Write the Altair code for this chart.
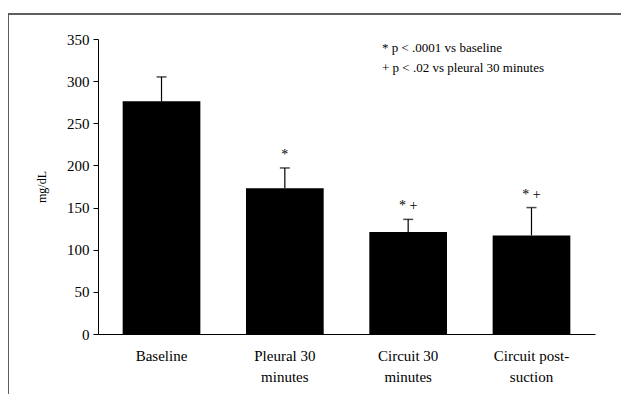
import altair as alt
import pandas as pd

categories = ["Baseline", "Pleural 30|minutes", "Circuit 30|minutes", "Circuit post-|suction"]
means = [276, 173, 121, 117]
errors = [29, 24, 15, 33]
markers = ["", "*", "* +", "* +"]
notes = ["*  p < .0001 vs baseline", "+  p < .02 vs pleural 30 minutes"]

df = pd.DataFrame({
    "cat": categories,
    "mean": means,
    "top": [m + e for m, e in zip(means, errors)],
    "mark": markers,
})

FONT = "Liberation Serif"

x = alt.X("cat:N", sort=categories, title=None,
          scale=alt.Scale(paddingInner=0.37, paddingOuter=0.2),
          axis=alt.Axis(labelAngle=0, labelExpr="split(datum.label, '|')",
                        labelFont=FONT, labelFontSize=15, labelColor="black",
                        labelPadding=14, labelLineHeight=21, ticks=False,
                        domainColor="black", domainWidth=1))
y = alt.Y("mean:Q", title="mg/dL",
          scale=alt.Scale(domain=[0, 350]),
          axis=alt.Axis(values=[0, 50, 100, 150, 200, 250, 300, 350], grid=False,
                        labelFont=FONT, labelFontSize=15, labelColor="black",
                        titleFont=FONT, titleFontSize=12, titleFontWeight="normal",
                        titleColor="black", titlePadding=18,
                        tickColor="black", tickSize=5, domainColor="black",
                        labelPadding=4))

xs = alt.X("cat:N", sort=categories)
base = alt.Chart(df)
bars = base.mark_bar(color="black").encode(x=x, y=y)
err = base.mark_rule(color="black", strokeWidth=1.2).encode(x=xs, y="mean:Q", y2="top:Q")
cap = base.mark_tick(color="black", thickness=1.5, size=10).encode(x=xs, y="top:Q")
stars = base.mark_text(font=FONT, fontSize=14, baseline="bottom", dy=-6, color="black").encode(
    x=xs, y="top:Q", text="mark:N")

note1 = alt.Chart(pd.DataFrame({"note": [notes[0]]})).mark_text(
    font=FONT, fontSize=13, align="left", baseline="middle", color="black").encode(
    x=alt.value(284), y=alt.value(9), text="note:N")
note2 = alt.Chart(pd.DataFrame({"note": [notes[1]]})).mark_text(
    font=FONT, fontSize=13, align="left", baseline="middle", color="black").encode(
    x=alt.value(284), y=alt.value(29), text="note:N")

frame_top = alt.Chart(df).mark_rule(color="#555", strokeWidth=1, clip=False).encode(
    x=alt.value(-90), x2=alt.value(532), y=alt.value(-25))
frame_left = alt.Chart(df).mark_rule(color="#555", strokeWidth=1, clip=False).encode(
    x=alt.value(-90), y=alt.value(-25), y2=alt.value(360))

chart = alt.layer(bars, err, cap, stars, note1, note2, frame_top, frame_left).properties(
    width=497, height=295,
    padding={"left": 90, "top": 31, "right": 26, "bottom": 60},
    autosize=alt.AutoSizeParams(type="none"),
).configure_view(stroke=None)

chart.save("out.html", embed_options={"renderer": "svg", "actions": False})
